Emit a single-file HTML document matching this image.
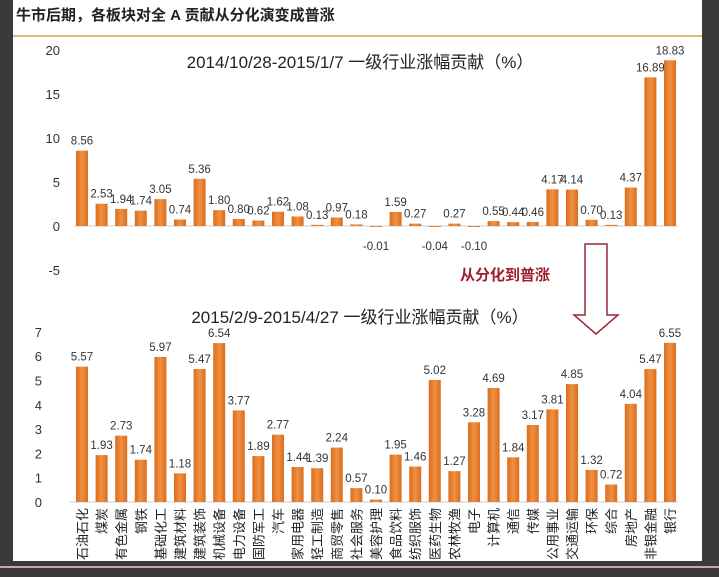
<!DOCTYPE html>
<html><head><meta charset="utf-8"><style>
body{margin:0;width:719px;height:572px;background:#3a3a3a;overflow:hidden;font-family:"Liberation Sans","Noto Sans CJK SC",sans-serif}
</style></head><body>
<svg width="719" height="572" xmlns="http://www.w3.org/2000/svg">
<defs><linearGradient id="g" x1="0" x2="1"><stop offset="0" stop-color="#d96d1f"/><stop offset="0.5" stop-color="#f09040"/><stop offset="1" stop-color="#d96d1f"/></linearGradient></defs>
<rect x="13" y="0" width="689" height="561" fill="#fff"/>
<line x1="0" y1="567" x2="719" y2="567" stroke="#d9a0a0" stroke-width="2"/>
<text x="16" y="20" font-size="15" font-weight="bold" fill="#222" font-family="Liberation Sans,Noto Sans CJK SC,sans-serif">牛市后期，各板块对全 A 贡献从分化演变成普涨</text>
<line x1="13" y1="36" x2="702" y2="36" stroke="#e39a4a" stroke-width="1.5"/>
<text x="360" y="68" font-size="17" text-anchor="middle" fill="#222" font-family="Liberation Sans,Noto Sans CJK SC,sans-serif">2014/10/28-2015/1/7 一级行业涨幅贡献（%）</text>
<text x="360" y="323" font-size="17" text-anchor="middle" fill="#222" font-family="Liberation Sans,Noto Sans CJK SC,sans-serif">2015/2/9-2015/4/27 一级行业涨幅贡献（%）</text>
<text x="460" y="280" font-size="15" font-weight="bold" fill="#a01c2c" font-family="Liberation Sans,Noto Sans CJK SC,sans-serif">从分化到普涨</text>
<path d="M585,244 H607 V315 H618 L596,334 L574,315 H585 Z" fill="none" stroke="#9a2a3a" stroke-width="1.5"/>
<g id="topchart"></g>
<g id="botchart"></g>
</svg>
<script>
const categories=["石油石化","煤炭","有色金属","钢铁","基础化工","建筑材料","建筑装饰","机械设备","电力设备","国防军工","汽车","家用电器","轻工制造","商贸零售","社会服务","美容护理","食品饮料","纺织服饰","医药生物","农林牧渔","电子","计算机","通信","传媒","公用事业","交通运输","环保","综合","房地产","非银金融","银行"];
const topValues=[8.56,2.53,1.94,1.74,3.05,0.74,5.36,1.80,0.80,0.62,1.62,1.08,0.13,0.97,0.18,-0.01,1.59,0.27,-0.04,0.27,-0.10,0.55,0.44,0.46,4.17,4.14,0.70,0.13,4.37,16.89,18.83];
const bottomValues=[5.57,1.93,2.73,1.74,5.97,1.18,5.47,6.54,3.77,1.89,2.77,1.44,1.39,2.24,0.57,0.10,1.95,1.46,5.02,1.27,3.28,4.69,1.84,3.17,3.81,4.85,1.32,0.72,4.04,5.47,6.55];
const topTicks=[20,15,10,5,0,-5];
const bottomTicks=[7,6,5,4,3,2,1,0];
const NS="http://www.w3.org/2000/svg";
function mk(p,t,a){const e=document.createElementNS(NS,t);for(const k in a)e.setAttribute(k,a[k]);p.appendChild(e);return e;}
const xPos=i=>82+i*19.6;
const yTop=v=>226-v*8.8;
const yBot=v=>502-v*24.3;
const F="Liberation Sans,Noto Sans CJK SC,sans-serif";
const topG=document.getElementById('topchart'), botG=document.getElementById('botchart');
topTicks.forEach(t=>{const e=mk(topG,'text',{x:60,y:yTop(t)+5,'font-size':13,'text-anchor':'end',fill:'#333','font-family':F});e.textContent=t;

});
const tl=mk(topG,'line',{x1:74,x2:678,y1:yTop(0),y2:yTop(0),stroke:'#ccc'});


topValues.forEach((v,i)=>{const y0=yTop(0),y1=yTop(v);
const r=mk(topG,'rect',{x:xPos(i)-6,y:Math.min(y0,y1),width:12,height:Math.max(1,Math.abs(y1-y0)),fill:'url(#g)'});


const ly=v>=0?y1-6:y0+24;
const t=mk(topG,'text',{x:xPos(i),y:ly,'font-size':11.5,'text-anchor':'middle',fill:'#333','font-family':F});t.textContent=v.toFixed(2);

});
bottomTicks.forEach(t=>{const e=mk(botG,'text',{x:42,y:yBot(t)+5,'font-size':13,'text-anchor':'end',fill:'#333','font-family':F});e.textContent=t;

});
const bl=mk(botG,'line',{x1:70,x2:678,y1:yBot(0),y2:yBot(0),stroke:'#ccc'});


bottomValues.forEach((v,i)=>{const y0=yBot(0),y1=yBot(v);
const r=mk(botG,'rect',{x:xPos(i)-6,y:y1,width:12,height:Math.max(1,y0-y1),fill:'url(#g)'});


const t=mk(botG,'text',{x:xPos(i),y:y1-6,'font-size':11.5,'text-anchor':'middle',fill:'#333','font-family':F});t.textContent=v.toFixed(2);


const c=mk(botG,'text',{x:0,y:0,'font-size':13,'text-anchor':'end',fill:'#222','font-family':F,transform:`translate(${xPos(i)+5},508) rotate(-90)`});c.textContent=categories[i];

});
</script>
</body></html>
